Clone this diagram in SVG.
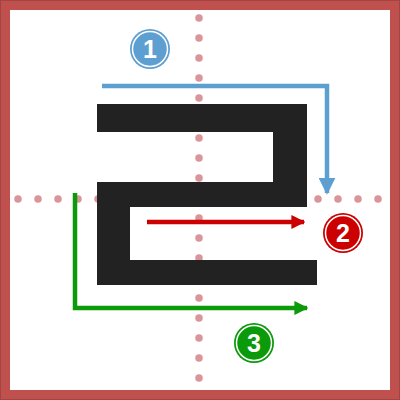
<svg xmlns="http://www.w3.org/2000/svg" width="400" height="400" viewBox="0 0 400 400">
<defs>
<style>
.guide{stroke:#d9959a;stroke-width:7.5;stroke-linecap:round;stroke-dasharray:0 20;fill:none}
.conn{fill:none;stroke-width:4.5;stroke-linejoin:miter}
.num{font-family:"Liberation Sans",Arial,sans-serif;font-weight:bold;font-size:25px;fill:#fff;text-anchor:middle}
.ring{fill:none;stroke:#fff;stroke-width:1.5}
</style>
<marker id="ab" viewBox="0 0 10 10" refX="9" refY="5" markerWidth="17" markerHeight="17" markerUnits="userSpaceOnUse" orient="auto"><path d="M0,0 L10,5 L0,10 Z" fill="#5e9fd2"/></marker>
<marker id="ar" viewBox="0 0 10 10" refX="9" refY="5" markerWidth="14" markerHeight="14" markerUnits="userSpaceOnUse" orient="auto"><path d="M0,0 L10,5 L0,10 Z" fill="#cc0000"/></marker>
<marker id="ag" viewBox="0 0 10 10" refX="9" refY="5" markerWidth="14" markerHeight="14" markerUnits="userSpaceOnUse" orient="auto"><path d="M0,0 L10,5 L0,10 Z" fill="#0a9a0a"/></marker>
</defs>
<rect x="0" y="0" width="400" height="400" fill="#fff"/>
<rect x="5" y="5" width="390" height="390" fill="none" stroke="#c0504d" stroke-width="10"/>
<rect x="0.5" y="0.5" width="399" height="399" fill="none" stroke="#a04543" stroke-width="1"/>
<g id="guides">
<line class="guide" x1="199" y1="18" x2="199" y2="382"/>
<line class="guide" x1="18" y1="199" x2="382" y2="199"/>
</g>
<g id="glyph">
<path d="M97,104 L307,104 L307,207 L130,207 L130,260 L317,260 L317,285 L97,285 L97,182 L273,182 L273,132 L97,132 Z" fill="#222"/>
</g>
<g id="connectors">
<polyline class="conn" stroke="#5e9fd2" points="102,86 327,86 327,193" marker-end="url(#ab)"/>
<line class="conn" stroke="#cc0000" x1="147" y1="222" x2="304" y2="222" marker-end="url(#ar)"/>
<polyline class="conn" stroke="#0a9a0a" points="75,193 75,308 307,308" marker-end="url(#ag)"/>
</g>
<g id="n1">
<circle cx="150" cy="49" r="20" fill="#5e9fd2"/>
<circle class="ring" cx="150" cy="49" r="17.5"/>
<text class="num" x="150" y="58">1</text>
</g>
<g id="n2">
<circle cx="343" cy="233" r="20" fill="#cc0000"/>
<circle class="ring" cx="343" cy="233" r="17.5"/>
<text class="num" x="343" y="242">2</text>
</g>
<g id="n3">
<circle cx="254" cy="343" r="20" fill="#0a9a0a"/>
<circle class="ring" cx="254" cy="343" r="17.5"/>
<text class="num" x="254" y="352">3</text>
</g>
</svg>
